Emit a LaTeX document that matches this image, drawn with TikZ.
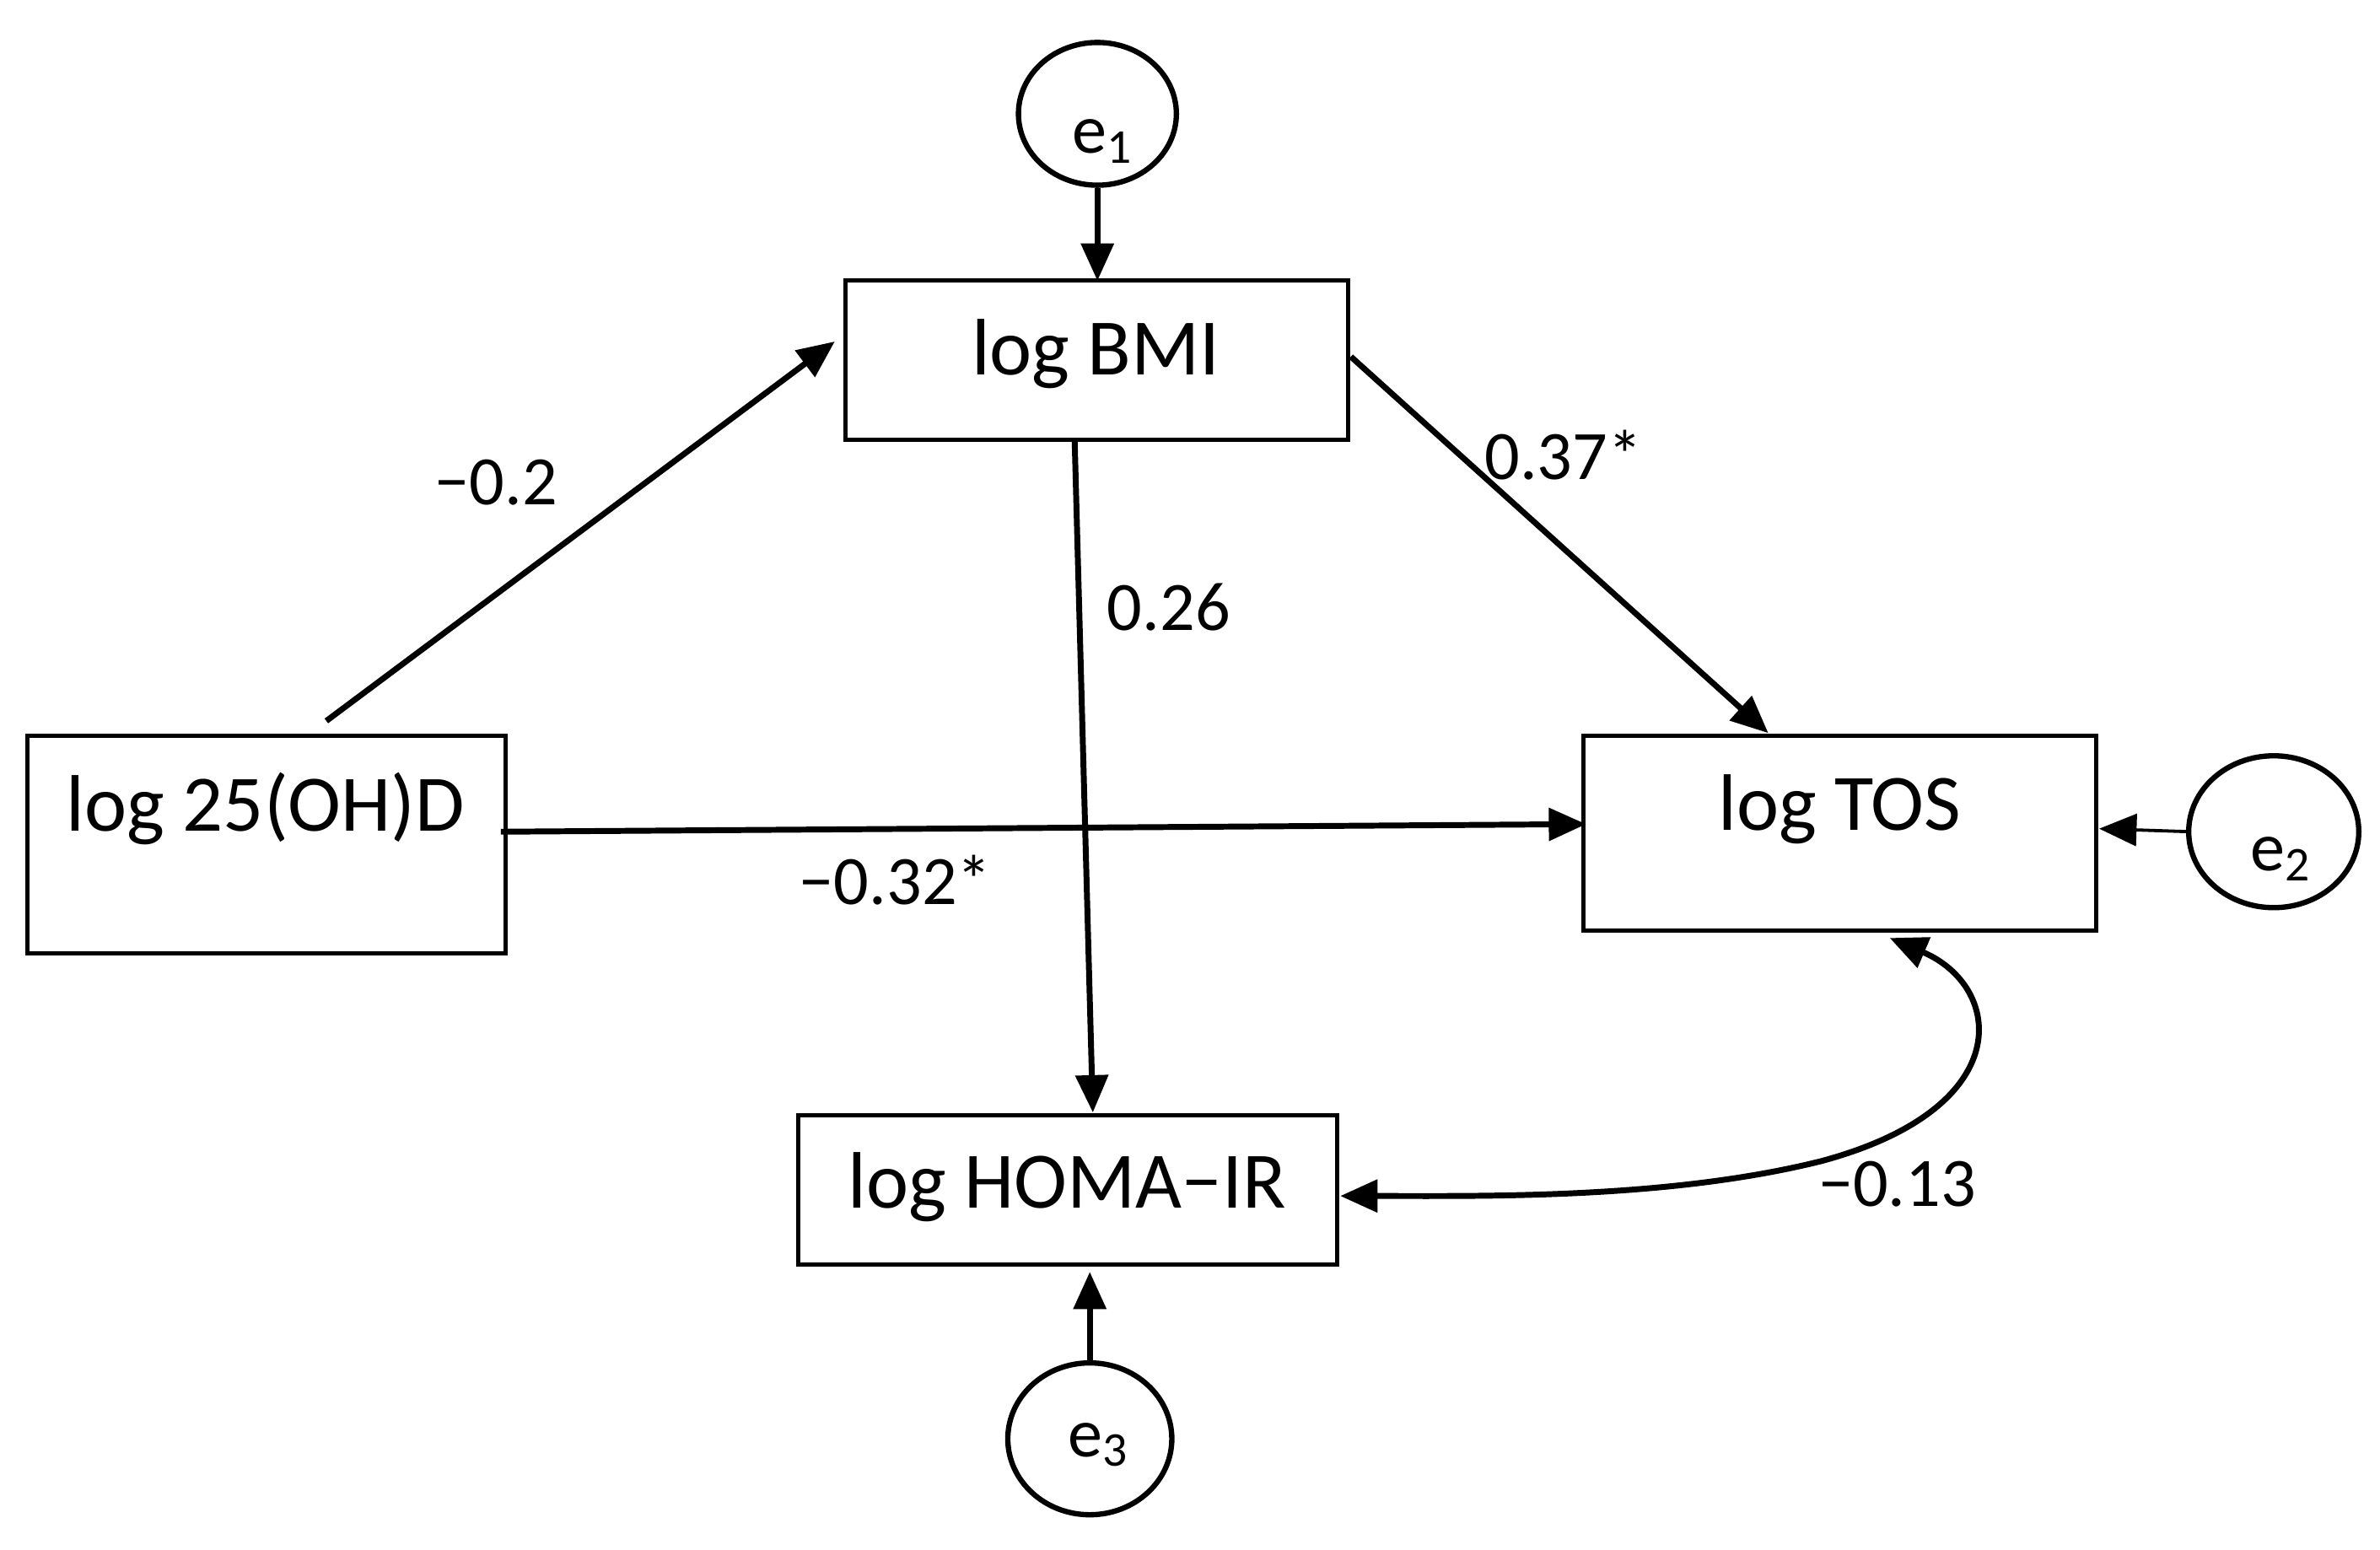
\documentclass[tikz,border=0pt]{standalone}
\usepackage{fontspec}
\setmainfont{Carlito}
\usetikzlibrary{arrows.meta,shapes.geometric}
\begin{document}
\begin{tikzpicture}[x=0.01cm,y=-0.01cm,
  box/.style={draw,line width=0.8pt},
  err/.style={draw,ellipse,line width=1pt,inner sep=0pt},
  arr/.style={line width=1.1pt,-{Triangle[length=7pt,width=6pt]}},
  lbl/.style={font=\fontsize{13}{15}\selectfont},
  txt/.style={font=\fontsize{15}{18}\selectfont}]
\useasboundingbox (0,0) rectangle (1568,1021);
\draw[box] (557,185) rectangle (888,290); \node[txt] (bmi) at (722,233) {log BMI};
\coordinate (bmiT) at (723,185);
\draw[box] (18,485) rectangle (333,628); \node[txt] (vd) at (175,533) {log 25(OH)D};
\draw[box] (1043,485) rectangle (1381,613); \node[txt] (tos) at (1212,533) {log TOS};
\draw[box] (526,735) rectangle (881,833); \node[txt] (homa) at (703,782) {log HOMA−IR};
\node[err,minimum width=1.04cm,minimum height=0.94cm] (e1) at (723,75) {};
\node[lbl] at (727,93) {e\textsubscript{1}};
\node[err,minimum width=1.12cm,minimum height=1.0cm] (e2) at (1498,548) {};
\node[lbl] at (1503,566) {e\textsubscript{2}};
\node[err,minimum width=1.08cm,minimum height=1.0cm] (e3) at (718,948) {};
\node[lbl] at (724,952) {e\textsubscript{3}};
\coordinate (a1) at (215,475); \coordinate (a2) at (550,225);
\coordinate (b1) at (890,235); \coordinate (b2) at (1165,483);
\coordinate (c1) at (330,548); \coordinate (c2) at (1045,543);
\coordinate (d1) at (708,290); \coordinate (d2) at (720,733);
\coordinate (f1) at (1443,548); \coordinate (f2) at (1383,546);
\coordinate (g2) at (718,838);
\coordinate (h1) at (1245,618); \coordinate (h2) at (883,788);
\draw[arr] (e1.south) -- (bmiT);
\draw[arr] (a1) -- (a2);
\draw[arr] (b1) -- (b2);
\draw[arr] (c1) -- (c2);
\draw[arr] (d1) -- (d2);
\draw[line width=0.6pt,-{Triangle[length=7pt,width=6pt]}] (f1) -- (f2);
\draw[arr] (e3.north) -- (g2);
\draw[line width=1.1pt,{Triangle[length=7pt,width=6pt]}-{Triangle[length=7pt,width=6pt]}] (h1) .. controls (1320,650) and (1330,730) .. (1200,765) .. controls (1100,790) and (980,788) .. (h2);
\node[lbl] at (327,318) {−0.2};
\node[lbl] at (1030,300) {0.37*};
\node[lbl] at (770,400) {0.26};
\node[lbl] at (590,580) {−0.32*};
\node[lbl] at (1250,780) {−0.13};
\end{tikzpicture}
\end{document}
